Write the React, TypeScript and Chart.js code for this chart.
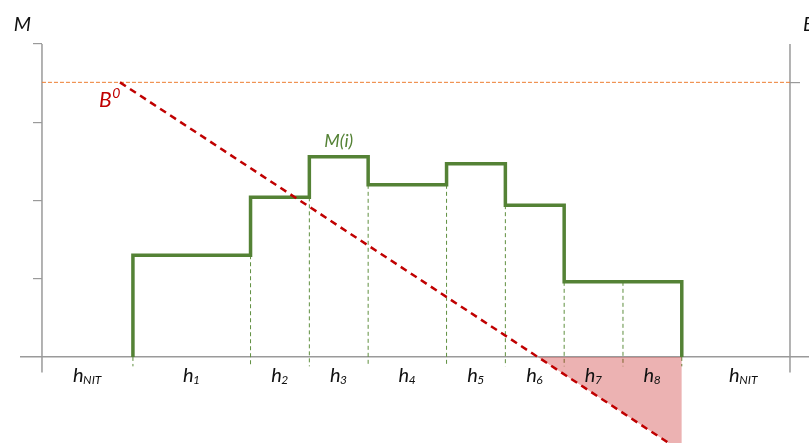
import React, { useEffect, useRef } from "react";
import { Chart, registerables } from "chart.js";

Chart.register(...registerables);

// ---- data ----
const segmentSubs = ["NIT", "1", "2", "3", "4", "5", "6", "7", "8", "NIT"];
const labelEdges = [-4.64, 0, 6, 9, 12, 16, 19, 22, 25, 28, 34.3];
const stepBounds = [0, 6, 9, 12, 16, 19, 22, 25, 28];
const mValues = [1.3, 2.04, 2.56, 2.2, 2.47, 1.94, 0.96, 0.96];
const bValue = 3.51;
const redLineX = [-0.66, 28];
const redLineY = [3.51, -1.21];
const redZeroX = 20.65;
const yTickValues = [1, 2, 3, 4];
const leftAxisX = -4.64;
const rightAxisX = 33.52;
const axisTop = 4;
const axisBottom = -0.2;
const dashBottom = -0.12;
const xMin = -5.71;
const xMax = 34.49;
const yMin = -1.1;
const yMax = 4;

const GREEN = "#548235";
const RED = "#C00000";
const ORANGE = "#ED7D31";
const GRAY = "#9a9a9a";
const FONT = "Lato, 'Open Sans', sans-serif";

function buildStep() {
  const pts: { x: number; y: number | null }[] = [{ x: stepBounds[0], y: 0 }];
  mValues.forEach((m, i) => {
    pts.push({ x: stepBounds[i], y: m });
    pts.push({ x: stepBounds[i + 1], y: m });
  });
  pts.push({ x: stepBounds[stepBounds.length - 1], y: 0 });
  return pts;
}

function buildDashes() {
  const pts: { x: number; y: number | null }[] = [];
  stepBounds.forEach((b, i) => {
    const left = i > 0 ? mValues[i - 1] : 0;
    const right = i < mValues.length ? mValues[i] : 0;
    const top = Math.min(left, right);
    pts.push({ x: b, y: top });
    pts.push({ x: b, y: dashBottom });
    pts.push({ x: b, y: null });
  });
  return pts;
}

const textPlugin = {
  id: "texts",
  afterDraw(chart: any) {
    const { ctx, scales } = chart;
    const xs = scales.x;
    const ys = scales.y;
    const y0 = ys.getPixelForValue(0);
    ctx.save();
    ctx.textBaseline = "alphabetic";
    ctx.textAlign = "left";
    // segment labels h_i
    segmentSubs.forEach((sub, i) => {
      const cx = xs.getPixelForValue((labelEdges[i] + labelEdges[i + 1]) / 2);
      ctx.font = `italic 20px ${FONT}`;
      const wm = ctx.measureText("h").width;
      ctx.font = `italic 12px ${FONT}`;
      const ws = ctx.measureText(sub).width;
      const x0 = cx - (wm + ws) / 2;
      ctx.fillStyle = "#111";
      ctx.font = `italic 20px ${FONT}`;
      ctx.fillText("h", x0, y0 + 25);
      ctx.font = `italic 12px ${FONT}`;
      ctx.fillText(sub, x0 + wm - 0.5, y0 + 27);
    });
    // axis labels
    const topPx = ys.getPixelForValue(axisTop);
    ctx.fillStyle = "#111";
    ctx.font = `italic 20px ${FONT}`;
    ctx.textAlign = "center";
    ctx.fillText("M", xs.getPixelForValue(leftAxisX) - 19.5, topPx - 13);
    ctx.textAlign = "left";
    ctx.fillText("B", xs.getPixelForValue(rightAxisX) + 13, topPx - 13);
    // M(i)
    ctx.fillStyle = GREEN;
    ctx.font = `italic 18px ${FONT}`;
    ctx.textAlign = "center";
    ctx.fillText(
      "M(i)",
      xs.getPixelForValue((stepBounds[2] + stepBounds[3]) / 2),
      ys.getPixelForValue(mValues[2]) - 10
    );
    // B^0
    ctx.fillStyle = RED;
    ctx.textAlign = "left";
    const bx = xs.getPixelForValue(redLineX[0]) - 21;
    const by = ys.getPixelForValue(bValue) + 25;
    ctx.font = `italic 21px ${FONT}`;
    const wb = ctx.measureText("B").width;
    ctx.fillText("B", bx, by);
    ctx.font = `italic 14px ${FONT}`;
    ctx.fillText("0", bx + wb + 0.5, by - 9);
    ctx.restore();
  },
};

export default function App() {
  const ref = useRef<HTMLCanvasElement>(null);
  useEffect(() => {
    if (!ref.current) return;
    const chart = new Chart(ref.current, {
      type: "line",
      data: {
        datasets: [
          {
            label: "B0",
            data: redLineX.map((x, i) => ({ x, y: redLineY[i] })),
            borderColor: RED,
            borderWidth: 2.5,
            borderDash: [7, 5],
            pointRadius: 0,
            fill: false,
            order: 0,
          } as any,
          {
            label: "M(i)",
            data: buildStep(),
            borderColor: GREEN,
            borderWidth: 3.5,
            pointRadius: 0,
            fill: false,
            borderJoinStyle: "miter",
            order: 1,
          },
          {
            label: "deficit",
            data: [
              { x: redZeroX, y: 0 },
              { x: redLineX[1], y: redLineY[1] },
            ],
            borderWidth: 0,
            borderColor: "rgba(0,0,0,0)",
            backgroundColor: "rgba(192,0,0,0.3)",
            pointRadius: 0,
            fill: "origin",
            order: 2,
          },
          {
            label: "bounds",
            data: buildDashes(),
            borderColor: "#5f8f3f",
            borderWidth: 1,
            borderDash: [4, 3],
            pointRadius: 0,
            spanGaps: false,
            fill: false,
            order: 3,
          },
          {
            label: "B",
            data: [
              { x: leftAxisX, y: bValue },
              { x: rightAxisX, y: bValue },
            ],
            borderColor: ORANGE,
            borderWidth: 1,
            borderDash: [4, 2],
            pointRadius: 0,
            fill: false,
            order: 4,
          },
          {
            label: "leftAxis",
            data: [
              { x: leftAxisX, y: axisTop },
              { x: leftAxisX, y: axisBottom },
            ],
            borderColor: GRAY,
            borderWidth: 1.5,
            pointRadius: 0,
            fill: false,
            order: 5,
          },
          {
            label: "rightAxis",
            data: [
              { x: rightAxisX, y: axisTop },
              { x: rightAxisX, y: axisBottom },
            ],
            borderColor: GRAY,
            borderWidth: 1.5,
            pointRadius: 0,
            fill: false,
            order: 5,
          },
        ],
      },
      options: {
        animation: false,
        responsive: true,
        maintainAspectRatio: false,
        layout: { padding: { left: 21, top: 44, right: 0, bottom: 0 } },
        plugins: {
          legend: { display: false },
          tooltip: { enabled: false },
        },
        scales: {
          x: {
            type: "linear",
            min: xMin,
            max: xMax,
            position: { y: 0 } as any,
            grid: { display: false },
            ticks: { display: false },
            border: { display: true, color: GRAY, width: 1.5 },
          },
          y: {
            type: "linear",
            min: yMin,
            max: yMax,
            position: { x: leftAxisX } as any,
            afterBuildTicks: (s: any) => {
              s.ticks = yTickValues.map((v) => ({ value: v }));
            },
            grid: {
              display: true,
              drawOnChartArea: false,
              drawTicks: true,
              tickLength: 9,
              color: GRAY,
              tickColor: GRAY,
              lineWidth: 1.2,
            },
            ticks: { display: false },
            border: { display: false },
          },
          y2: {
            type: "linear",
            min: yMin,
            max: yMax,
            position: { x: rightAxisX } as any,
            afterBuildTicks: (s: any) => {
              s.ticks = [{ value: bValue }];
            },
            grid: {
              display: true,
              drawOnChartArea: false,
              drawTicks: true,
              tickLength: -10,
              color: GRAY,
              tickColor: GRAY,
              lineWidth: 1.2,
            },
            ticks: { display: false },
            border: { display: false },
          },
        },
      } as any,
      plugins: [textPlugin],
    });
    return () => chart.destroy();
  }, []);
  return (
    <div style={{ position: "fixed", left: 0, top: 0, width: 809, height: 443, background: "#fff" }}>
      <canvas ref={ref} />
    </div>
  );
}
